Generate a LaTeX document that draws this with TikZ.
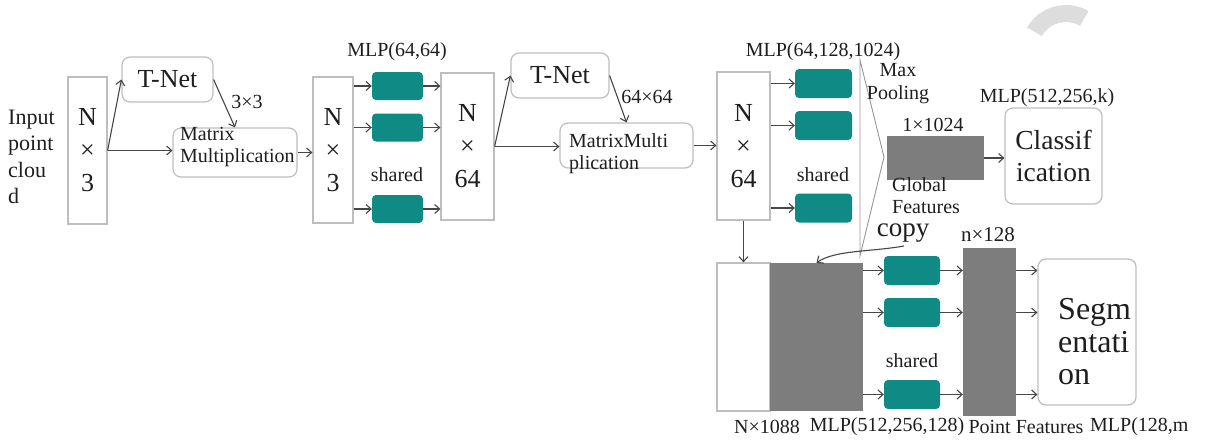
\documentclass[tikz,border=0pt]{standalone}
\usepackage{fontspec}
\setmainfont{LiberationSerif}[Extension=.ttf, UprightFont=*-Regular, BoldFont=*-Bold]
\usetikzlibrary{arrows.meta}
\definecolor{tealc}{RGB}{16,138,133}
\definecolor{blk}{RGB}{125,125,125}
\definecolor{bord}{RGB}{190,190,190}
\definecolor{arrc}{RGB}{70,70,70}
\definecolor{txtc}{RGB}{30,30,30}
\definecolor{wmc}{RGB}{221,221,221}
\definecolor{tric}{RGB}{150,150,150}
\begin{document}
\begin{tikzpicture}[x=1pt,y=-1pt,
  box/.style={draw=bord, line width=1.2pt, fill=white, inner sep=0pt, align=center, text=txtc},
  rbox/.style={box, rounded corners=8pt},
  colbox/.style={box, font=\fontsize{26}{33}\selectfont},
  tealbox/.style={fill=tealc, draw=none, rounded corners=4pt, inner sep=0pt},
  graybox/.style={fill=blk, draw=none, inner sep=0pt},
  conn/.style={draw=arrc, line width=1.1pt, -{Straight Barb[length=5pt,width=9pt]}},
  lbl/.style={inner sep=0pt, text=txtc, font=\fontsize{20}{22}\selectfont},
]
\useasboundingbox (0,0) rectangle (1212,447);
% watermark arc
\fill[wmc] ([shift={(1066,50)}]-60:45) arc[start angle=-60,end angle=-150,radius=45]
  -- ([shift={(1066,50)}]-150:28) arc[start angle=-150,end angle=-60,radius=28] -- cycle;

% input
\node[lbl, font=\fontsize{22}{26.5}\selectfont, align=left, anchor=west] (inp) at (8,157) {Input\\point\\clou\\d};
\node[colbox, minimum width=39, minimum height=147] (nA) at (87.5,150.5) {N\\×\\3};
\node[rbox, minimum width=91, minimum height=45, font=\fontsize{26}{30}\selectfont] (t1) at (167.5,79.5) {T-Net};
\node[rbox, minimum width=124, minimum height=49] (m1) at (235,152.5) {};
\node[lbl, align=left, anchor=west] (m1t) at (180,147) {Matrix\\Multiplication};
\node[lbl] (l33) at (247,102) {3×3};

% first MLP
\node[colbox, minimum width=40, minimum height=146] (nB) at (333,150) {N\\×\\3};
\foreach \n/\y in {a1/86,a2/127.5,a3/209}
  \node[tealbox, minimum width=51, minimum height=28] (\n) at (397.5,\y) {};
\node[lbl] (mlpA) at (397,52) {MLP(64,64)};
\node[lbl] (shA) at (397,175) {shared};
\node[colbox, minimum width=53, minimum height=147] (nC) at (467.5,146.5) {N\\×\\64};

% second transform
\node[rbox, minimum width=98, minimum height=45, font=\fontsize{26}{30}\selectfont] (t2) at (560,75.5) {T-Net};
\node[lbl] (l6464) at (647,97) {64×64};
\node[rbox, minimum width=133, minimum height=45] (m2) at (626.5,145.5) {};
\node[lbl, align=left, anchor=west] (m2t) at (569,154) {MatrixMulti\\plication};

% second MLP
\node[colbox, minimum width=53, minimum height=148] (nD) at (743.5,146) {N\\×\\64};
\foreach \n/\y in {b1/83.5,b2/125.5,b3/208}
  \node[tealbox, minimum width=57, minimum height=29] (\n) at (823.5,\y) {};
\node[lbl] (mlpB) at (823,52) {MLP(64,128,1024)};
\node[lbl] (shB) at (823,175) {shared};

% max pooling
\draw[tric, line width=0.9pt] (860,60) -- (884,157) -- (860,256) -- cycle;
\node[lbl, align=center, font=\fontsize{20}{23}\selectfont] (mp) at (898,84) {Max\\Pooling};
\node[lbl] (l1024) at (933,125) {1×1024};
\node[graybox, minimum width=97, minimum height=44] (gf) at (935.5,158) {};
\node[lbl, align=left, anchor=west] (gft) at (892,196) {Global\\Features};
\node[rbox, minimum width=97, minimum height=96, font=\fontsize{27.5}{32}\selectfont] (cls) at (1053.5,156) {Classif\\ication};
\node[lbl] (mlpK) at (1047,98) {MLP(512,256,k)};

% segmentation branch
\node[lbl, font=\fontsize{27}{30}\selectfont] (copy) at (903,233) {copy};
\coordinate (cpS) at (904,246);
\node[lbl, font=\fontsize{21}{24}\selectfont] (n128) at (988,235) {n×128};
\node[box, minimum width=53, minimum height=148] (nE) at (743.5,337) {};
\node[graybox, minimum width=93, minimum height=148] (cat) at (816.5,337) {};
\foreach \n/\y in {c1/270.5,c2/312.5,c3/394.5}
  \node[tealbox, minimum width=56, minimum height=29] (\n) at (912,\y) {};
\node[lbl] (shC) at (912,361) {shared};
\node[graybox, minimum width=53, minimum height=168] (pf) at (989.5,332) {};
\node[rbox, minimum width=98, minimum height=146] (seg) at (1087,332) {};
\node[lbl, align=left, anchor=west, font=\fontsize{32}{32.5}\selectfont] (segt) at (1058,342) {Segm\\entati\\on};

% bottom labels
\node[lbl] (b1088) at (767,427) {N×1088};
\node[lbl] (bmlp) at (887,427) {MLP(512,256,128)};
\node[lbl] (bpf) at (1026,427) {Point Features};
\node[lbl, anchor=west] (bmlp2) at (1090,427) {MLP(128,m};

% connectors
\draw[conn] (nA.east) -- (t1.west);
\draw[conn] (nA.east) -- (nA.east -| m1.west);
\draw[conn] (t1.east) -- (m1.north);
\draw[conn] (m1.east) -- (m1.east -| nB.west);
\foreach \n in {a1,a2,a3}{
  \draw[conn] (nB.east |- \n.west) -- (\n.west);
  \draw[conn] (\n.east) -- (\n.east -| nC.west);
}
\draw[conn] (nC.east) -- (t2.west);
\draw[conn] (nC.east) -- (nC.east -| m2.west);
\draw[conn] (t2.east) -- (m2.north);
\draw[conn] (m2.east) -- (m2.east -| nD.west);
\foreach \n in {b1,b2,b3}
  \draw[conn] (nD.east |- \n.west) -- (\n.west);
\draw[conn] (gf.east) -- (cls.west |- gf.east);
\draw[conn] (nD.south) -- (nE.north);
\draw[conn] (cpS) .. controls (870,252) and (835,250) .. (cat.north);
\foreach \n in {c1,c2,c3}{
  \draw[conn] (cat.east |- \n.west) -- (\n.west);
  \draw[conn] (\n.east) -- (\n.east -| pf.west);
  \draw[conn] (pf.east |- \n.east) -- (seg.west |- \n.east);
}
\end{tikzpicture}
\end{document}
